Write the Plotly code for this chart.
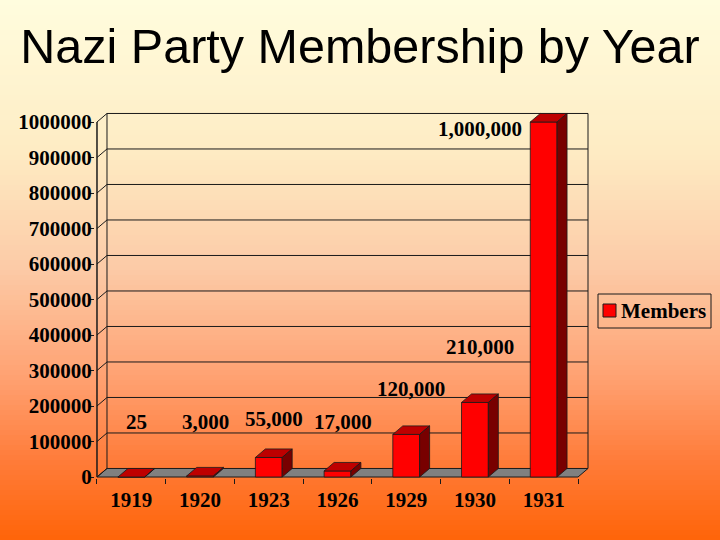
"""
Nazi party membership, faux-3D bar chart
"""

import plotly.graph_objects as go

years = ["1919", "1920", "1923", "1926", "1929", "1930", "1931"]
members = [25, 3000, 55000, 17000, 120000, 210000, 1000000]
member_labels = ["25", "3,000", "55,000", "17,000", "120,000", "210,000", "1,000,000"]
y_ticks = [0, 100000, 200000, 300000, 400000, 500000, 600000, 700000, 800000, 900000, 1000000]
series_name = "Members"

# depth of the fake 3d box, in axis units
DX = 0.1455
DY = 24000
BW = 0.39

# plot area in pixels (720x540 canvas)
PX_L, PX_R, PX_T, PX_B = 95, 589, 112, 478
X_RANGE = [-0.529, 6.66]
Y_RANGE = [-2817, 1028169]

serif = dict(family="Liberation Serif, Times New Roman, serif", size=21, color="black", weight="bold")
LINE = "#1a1a1a"


def mix(c1, c2, t):
    return tuple(round(a + (b - a) * t) for a, b in zip(c1, c2))


# vertical background gradient (pixel y, colour)
stops = [(0, (255, 253, 222)), (150, (254, 236, 196)), (270, (252, 202, 166)),
         (380, (255, 160, 112)), (460, (255, 124, 58)), (540, (255, 100, 8))]


def grad_color(py):
    for (y0, c0), (y1, c1) in zip(stops, stops[1:]):
        if y0 <= py <= y1:
            return "rgb(%d,%d,%d)" % mix(c0, c1, (py - y0) / (y1 - y0))
    return "rgb(%d,%d,%d)" % stops[-1][1]


def paper_x(px):
    return (px - PX_L) / (PX_R - PX_L)


def paper_y(py):
    return (PX_B - py) / (PX_B - PX_T)


shapes = []
band = 5
for py in range(0, 540, band):
    shapes.append(dict(type="rect", xref="paper", yref="paper", layer="below",
                       x0=paper_x(-4), x1=paper_x(724), y0=paper_y(py), y1=paper_y(py + band + 1),
                       fillcolor=grad_color(py + band / 2), line=dict(width=0)))

x_left, x_right = -0.5, len(years) - 0.5

# floor
shapes.append(dict(type="path", layer="below", xref="x", yref="y",
                   path="M %f,0 L %f,0 L %f,%f L %f,%f Z" % (x_left, x_right, x_right + DX, DY, x_left + DX, DY),
                   fillcolor="rgb(128,128,128)", line=dict(color=LINE, width=1)))

# back wall gridlines + side wall diagonals
for v in y_ticks[1:]:
    shapes.append(dict(type="line", layer="below", xref="x", yref="y",
                       x0=x_left + DX, x1=x_right + DX, y0=v + DY, y1=v + DY, line=dict(color=LINE, width=1)))
for v in y_ticks:
    shapes.append(dict(type="line", layer="below", xref="x", yref="y",
                       x0=x_left, x1=x_left + DX, y0=v, y1=v + DY, line=dict(color=LINE, width=1)))
# wall edges
top = y_ticks[-1]
shapes.append(dict(type="line", layer="below", xref="x", yref="y",
                   x0=x_left + DX, x1=x_left + DX, y0=DY, y1=top + DY, line=dict(color=LINE, width=1)))
shapes.append(dict(type="line", layer="below", xref="x", yref="y",
                   x0=x_right + DX, x1=x_right + DX, y0=DY, y1=top + DY, line=dict(color=LINE, width=1)))
shapes.append(dict(type="line", layer="below", xref="x", yref="y",
                   x0=x_left, x1=x_left, y0=0, y1=top, line=dict(color=LINE, width=1.5)))

# bar tops and sides
for i, v in enumerate(members):
    l, r = i - BW / 2, i + BW / 2
    shapes.append(dict(type="path", xref="x", yref="y",
                       path="M %f,%f L %f,%f L %f,%f L %f,%f Z" % (l, v, r, v, r + DX, v + DY, l + DX, v + DY),
                       fillcolor="rgb(190,0,0)", line=dict(color=LINE, width=0.8)))
    shapes.append(dict(type="path", xref="x", yref="y",
                       path="M %f,0 L %f,%f L %f,%f L %f,%f Z" % (r, r + DX, DY, r + DX, v + DY, r, v),
                       fillcolor="rgb(120,0,0)", line=dict(color=LINE, width=0.8)))

# legend box, drawn by hand
shapes.append(dict(type="rect", xref="paper", yref="paper",
                   x0=paper_x(598), x1=paper_x(711), y0=paper_y(328), y1=paper_y(294),
                   fillcolor="rgba(0,0,0,0)", line=dict(color=LINE, width=1)))
shapes.append(dict(type="rect", xref="paper", yref="paper",
                   x0=paper_x(603), x1=paper_x(616), y0=paper_y(317), y1=paper_y(304),
                   fillcolor="rgb(255,0,0)", line=dict(color=LINE, width=1)))

annotations = [dict(xref="paper", yref="paper", x=paper_x(619), y=paper_y(311), text=series_name,
                    showarrow=False, xanchor="left", yanchor="middle", font=serif)]
vmax = max(members)
for i, (v, txt) in enumerate(zip(members, member_labels)):
    if v == vmax:
        annotations.append(dict(x=i - BW / 2, y=v, text=txt, showarrow=False, xanchor="right",
                                yanchor="middle", xshift=-6, yshift=-7, font=serif))
    else:
        annotations.append(dict(x=i + DX / 2, y=max(127000, 1.3 * v + 65000), text=txt, showarrow=False,
                                xanchor="center", yanchor="bottom", yshift=-4, font=serif))

fig = go.Figure(go.Bar(
    x=years, y=members, name=series_name, width=BW,
    marker=dict(color="rgb(255,0,0)", line=dict(color=LINE, width=0.8)),
))

fig.update_layout(
    width=720, height=540,
    margin=dict(l=PX_L, r=720 - PX_R, t=PX_T, b=540 - PX_B, autoexpand=False),
    paper_bgcolor="rgba(0,0,0,0)", plot_bgcolor="rgba(0,0,0,0)",
    title=dict(text="Nazi Party Membership by Year", x=0.5, xref="container", xanchor="center",
               y=1 - 46 / 540, yanchor="middle",
               font=dict(family="Liberation Sans, Arial, sans-serif", size=48.5, color="black")),
    showlegend=False,
    shapes=shapes,
    annotations=annotations,
)
fig.update_xaxes(type="category", range=X_RANGE, showgrid=False, zeroline=False, showline=False,
                 automargin=False, ticks="outside", tickson="boundaries", ticklen=5, tickcolor=LINE,
                 tickfont=serif, ticklabelstandoff=7)
fig.update_yaxes(range=Y_RANGE, tickvals=y_ticks, ticktext=[str(t) for t in y_ticks],
                 showgrid=False, zeroline=False, showline=False, automargin=False,
                 ticks="outside", ticklen=5, tickcolor=LINE, tickfont=serif, ticklabelstandoff=-7)

fig.write_html("out.html", config={"displayModeBar": False},
               post_script="document.body.style.margin='0px';")
